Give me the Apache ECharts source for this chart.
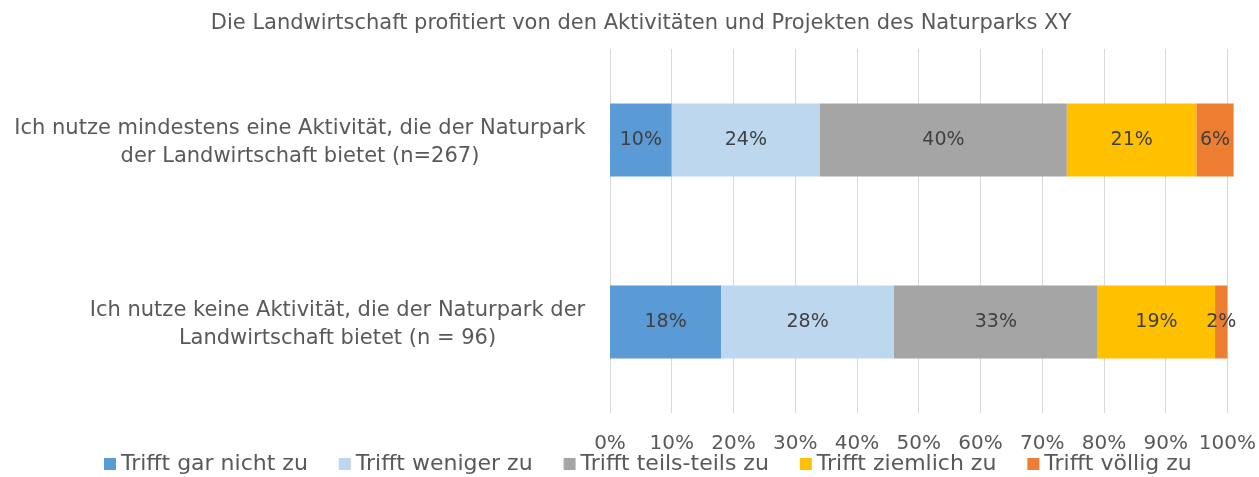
<!DOCTYPE html>
<html>
<head>
<meta charset="utf-8">
<script src="https://cdn.jsdelivr.net/npm/echarts@6/dist/echarts.min.js"></script>
<style>
  html, body { margin: 0; padding: 0; background: #fff; }
  #chart { width: 1259px; height: 477px; }
</style>
</head>
<body>
<div id="chart"></div>
<script>
// Daten
var categories = [
  "Ich nutze mindestens eine Aktivität, die der Naturpark\nder Landwirtschaft bietet (n=267)",
  "Ich nutze keine Aktivität, die der Naturpark der\nLandwirtschaft bietet (n = 96)"
];
var seriesNames = ["Trifft gar nicht zu", "Trifft weniger zu", "Trifft teils-teils zu", "Trifft ziemlich zu", "Trifft völlig zu"];
var garNicht = [10, 18];
var weniger = [24, 28];
var teils = [40, 33];
var ziemlich = [21, 19];
var voellig = [6, 2];
var xTicks = [0, 10, 20, 30, 40, 50, 60, 70, 80, 90, 100];

var colors = ["#5B9BD5", "#BDD7EE", "#A5A5A5", "#FFC000", "#ED7D31"];
var FONT = "DejaVu Sans";
var chart = echarts.init(document.getElementById("chart"));

var allData = [garNicht, weniger, teils, ziemlich, voellig];
var series = allData.map(function (d, i) {
  return {
    name: seriesNames[i],
    type: "bar",
    stack: "total",
    barWidth: "40%",
    clip: false,
    data: d,
    itemStyle: { color: colors[i] },
    label: {
      show: true,
      position: "inside",
      formatter: "{c}%",
      color: "#404040",
      fontFamily: FONT,
      fontSize: 19
    }
  };
});

var option = {
  animation: false,
  title: {
    text: "Die Landwirtschaft profitiert von den Aktivitäten und Projekten des Naturparks XY",
    left: 636,
    textAlign: "center",
    top: 8,
    textStyle: { color: "#595959", fontFamily: FONT, fontSize: 21, fontWeight: "normal" }
  },
  legend: {
    bottom: 2,
    left: 104,
    padding: 0,
    itemWidth: 12,
    itemHeight: 12,
    itemGap: 31,
    icon: "rect",
    data: seriesNames,
    textStyle: { color: "#595959", fontFamily: FONT, fontSize: 22 }
  },
  grid: { left: 610, right: 30, top: 49, bottom: 64 },
  xAxis: {
    type: "value",
    min: 0,
    max: 100,
    interval: 10,
    axisLine: { show: false },
    axisTick: { show: false },
    splitLine: { show: true, lineStyle: { color: "#D9D9D9", width: 1 } },
    axisLabel: {
      formatter: function (v) { return xTicks.indexOf(v) >= 0 ? v + "%" : ""; },
      color: "#595959",
      fontFamily: FONT,
      fontSize: 20,
      margin: 21
    }
  },
  yAxis: {
    type: "category",
    inverse: true,
    data: categories,
    axisLine: { show: false },
    axisTick: { show: false },
    axisLabel: {
      color: "#595959",
      fontFamily: FONT,
      fontSize: 21,
      lineHeight: 28,
      margin: 23,
      padding: [5, 0, 0, 0],
      formatter: function (v, i) {
        return v.split("\n").map(function (s) { return "{l" + i + "|" + s + "}"; }).join("\n");
      },
      rich: {
        l0: { width: 574, align: "center", color: "#595959", fontFamily: FONT, fontSize: 21, lineHeight: 28 },
        l1: { width: 499, align: "center", color: "#595959", fontFamily: FONT, fontSize: 21, lineHeight: 28 }
      }
    }
  },
  series: series
};
chart.setOption(option);
</script>
</body>
</html>
